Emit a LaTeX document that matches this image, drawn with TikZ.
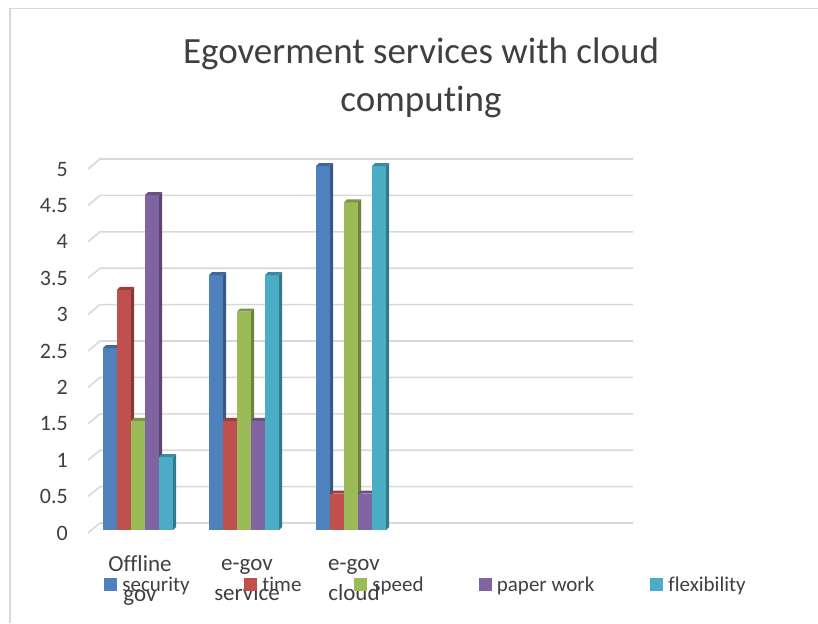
\documentclass[tikz,border=0pt]{standalone}
\usepackage{fontspec}
\setmainfont{Carlito}[Ligatures={NoCommon}]
\usetikzlibrary{positioning}

\definecolor{cSec}{HTML}{4F81BD}
\definecolor{cTime}{HTML}{C0504D}
\definecolor{cSpeed}{HTML}{9BBB59}
\definecolor{cPaper}{HTML}{8064A2}
\definecolor{cFlex}{HTML}{4BACC6}
\definecolor{gridgray}{HTML}{D9D9D9}
\definecolor{textgray}{HTML}{404040}

\begin{document}
\begin{tikzpicture}[x=1pt, y=-1pt,
    grid/.style={draw=gridgray, line width=1.6pt},
    axislbl/.style={font=\fontsize{22}{22}\selectfont, text=textgray, anchor=base east, inner sep=0pt},
    catlbl/.style={font=\fontsize{23}{30}\selectfont, text=textgray, align=center},
    keybox/.style={minimum size=13pt, inner sep=0pt},
    keylbl/.style={font=\fontsize{21}{21}\selectfont, text=textgray, inner sep=0pt, text height=14pt, text depth=4pt}]
	\useasboundingbox (0,0) rectangle (818,623);
	\fill[white] (0,0) rectangle (818,623);
	\draw[gridgray, line width=1.5pt] (10,623) -- (10,8.5) -- (818,8.5);

	\node[font=\fontsize{37}{48}\selectfont, text=textgray, align=center] (title) at (421,78) {Egoverment services with cloud\\computing};

	% grid and value axis
	\foreach \v in {0,0.5,1,1.5,2,2.5,3,3.5,4,4.5,5} {
		\draw[grid] (88,{533-72.8*\v}) -- (100,{523-72.8*\v}) -- (633,{523-72.8*\v});
		\node[axislbl] at (68,{540-72.8*\v}) {\v};
	}

	% bars
	\foreach \g/\sa/\sb/\sc/\sd/\se in {103/2.5/3.3/1.5/4.6/1, 209/3.5/1.5/3/1.5/3.5, 316/5/0.5/4.5/0.5/5} {
		\foreach \v/\col [count=\i from 0] in {\sa/cSec, \sb/cTime, \sc/cSpeed, \sd/cPaper, \se/cFlex} {
			\pgfmathsetmacro\xa{\g+14*\i}
			\pgfmathsetmacro\yt{530-72.8*\v}
			\fill[\col] (\xa,530) rectangle (\xa+14,\yt);
			\fill[\col!70!black] (\xa+14,530) -- (\xa+17,527) -- (\xa+17,\yt-3) -- (\xa+14,\yt) -- cycle;
			\fill[\col!80!black] (\xa,\yt) -- (\xa+3,\yt-3) -- (\xa+17,\yt-3) -- (\xa+14,\yt) -- cycle;
		}
	}

	% categories
	\node[catlbl] (cOff) at (140,580) {Offline\\gov};
	\node[catlbl] (cServ) at (247,580) {e-gov\\service};
	\node[catlbl] (cCloud) at (354,580) {e-gov\\cloud};

	% legend
	\node[keybox, fill=cSec] (kSec) at (110.5,584.5) {};
	\node[keylbl, right=5pt of kSec, yshift=-2pt] (lSec) {security};
	\node[keybox, fill=cTime] (kTime) at (250.5,584.5) {};
	\node[keylbl, right=5pt of kTime, yshift=-2pt] (lTime) {time};
	\node[keybox, fill=cSpeed] (kSpeed) at (360.5,584.5) {};
	\node[keylbl, right=5pt of kSpeed, yshift=-2pt] (lSpeed) {speed};
	\node[keybox, fill=cPaper] (kPaper) at (485,584.5) {};
	\node[keylbl, right=5pt of kPaper, yshift=-2pt] (lPaper) {paper work};
	\node[keybox, fill=cFlex] (kFlex) at (656.5,584.5) {};
	\node[keylbl, right=5pt of kFlex, yshift=-2pt] (lFlex) {flexibility};
\end{tikzpicture}
\end{document}
